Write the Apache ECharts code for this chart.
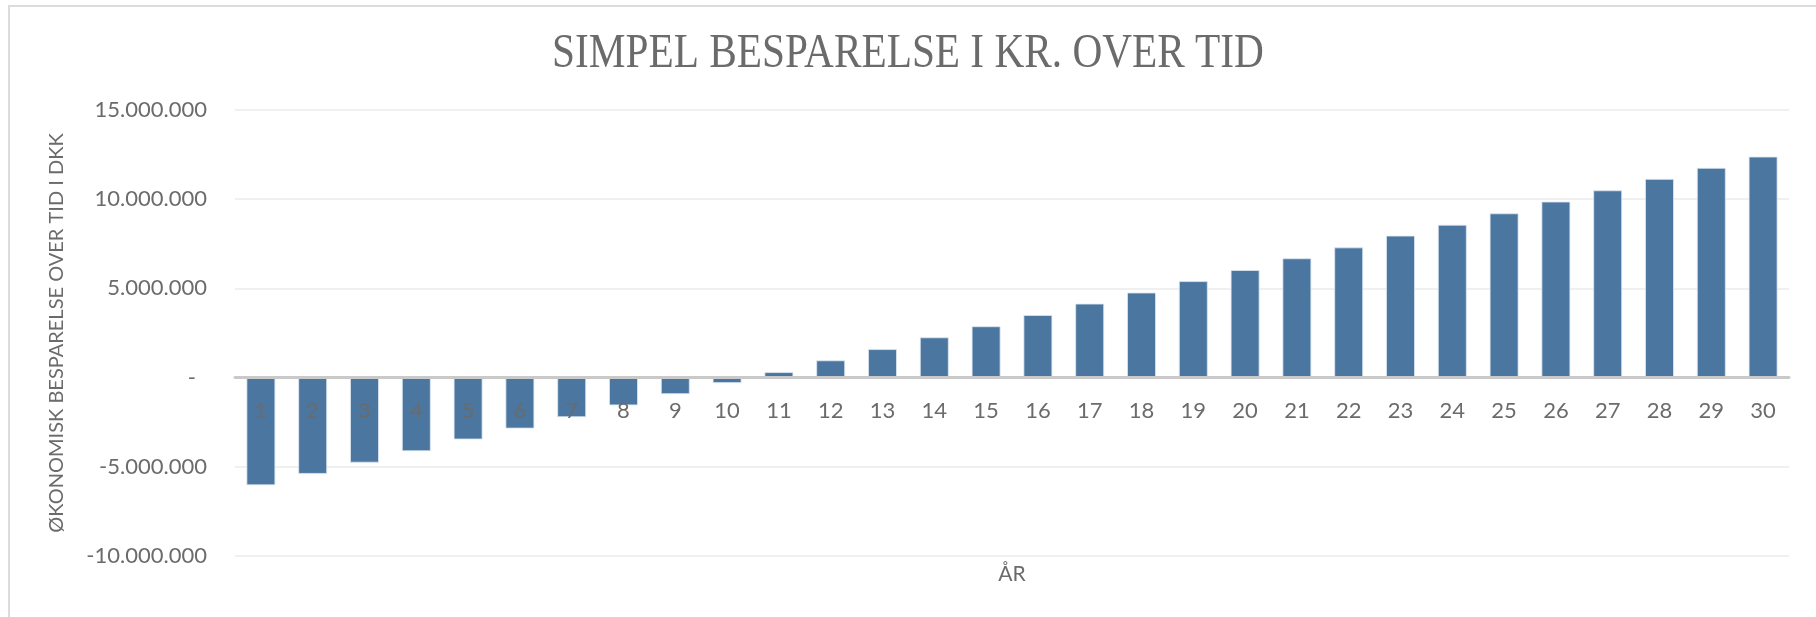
<!DOCTYPE html>
<html>
<head>
    <meta charset="UTF-8">
    <title>Simpel besparelse i kr. over tid</title>
    <script src="https://cdn.jsdelivr.net/npm/echarts@6/dist/echarts.min.js"></script>
    <style>
        html, body { margin: 0; padding: 0; background: #fff; }
        #chart { width: 1816px; height: 617px; }
    </style>
</head>
<body>
    <div id="chart"></div>
    <script>
        // data
        var years = ['1', '2', '3', '4', '5', '6', '7', '8', '9', '10',
                     '11', '12', '13', '14', '15', '16', '17', '18', '19', '20',
                     '21', '22', '23', '24', '25', '26', '27', '28', '29', '30'];
        var savings = [-6040000, -5400000, -4770000, -4130000, -3470000, -2860000, -2220000, -1560000, -930000, -310000,
                       310000, 970000, 1600000, 2260000, 2880000, 3510000, 4150000, 4770000, 5410000, 6030000,
                       6690000, 7300000, 7960000, 8570000, 9210000, 9870000, 10500000, 11140000, 11760000, 12390000];
        var yTicks = { min: -10000000, max: 15000000, step: 5000000 };

        var titleText = 'SIMPEL BESPARELSE I KR. OVER TID';
        var yName = 'ØKONOMISK BESPARELSE OVER TID I DKK';
        var xName = 'ÅR';

        var textGrey = '#6b6b6b';
        var sans = 'Lato, "Open Sans", sans-serif';

        var gridTop = 110, gridBottom = 61, chartH = 617;
        // the category axis sits on the zero line; shift it up from the grid bottom
        var plotH = chartH - gridTop - gridBottom;
        var zeroOffset = plotH * (0 - yTicks.min) / (yTicks.max - yTicks.min);

        function fmtKr(v) {
            if (v === 0) return '-\u2002';
            var s = String(Math.abs(v)).replace(/\B(?=(\d{3})+(?!\d))/g, '.');
            return (v < 0 ? '-' : '') + s;
        }

        var chart = echarts.init(document.getElementById('chart'), null, {renderer: 'canvas'});

        chart.setOption({
            backgroundColor: '#fff',
            animation: false,
            graphic: [
                {
                    type: 'rect',
                    shape: {x: 9, y: 6, width: 1900, height: 700},
                    style: {fill: 'none', stroke: '#dcdcdc', lineWidth: 2},
                    silent: true
                },
                {
                    type: 'text',
                    x: 908,
                    y: 54,
                    scaleX: 0.86,
                    style: {
                        text: titleText,
                        font: '48px "Liberation Serif", serif',
                        fill: textGrey,
                        textAlign: 'center',
                        textVerticalAlign: 'middle'
                    }
                }
            ],
            grid: {left: 235, right: 27, top: gridTop, bottom: gridBottom, outerBoundsMode: 'none', containLabel: false},
            xAxis: {
                type: 'category',
                data: years,
                z: 3,
                offset: -zeroOffset,
                name: xName,
                nameLocation: 'middle',
                nameGap: 186,
                nameTextStyle: {color: textGrey, fontSize: 21, fontFamily: sans},
                axisLine: {onZero: false, lineStyle: {color: '#c9c9c9', width: 3}},
                axisTick: {show: false},
                axisLabel: {color: textGrey, fontSize: 22, fontFamily: sans, margin: 22, interval: 0}
            },
            yAxis: {
                type: 'value',
                min: yTicks.min,
                max: yTicks.max,
                interval: yTicks.step,
                name: yName,
                nameLocation: 'middle',
                nameGap: 168,
                nameTextStyle: {color: textGrey, fontSize: 20, fontFamily: sans},
                axisLine: {show: false},
                axisTick: {show: false},
                splitLine: {lineStyle: {color: '#f0f0f0', width: 2}},
                axisLabel: {color: textGrey, fontSize: 22, fontFamily: sans, margin: 28, formatter: fmtKr}
            },
            series: [{
                type: 'bar',
                data: savings,
                barWidth: '56%',
                itemStyle: {color: '#4a76a0', borderColor: 'rgba(220,230,240,0.8)', borderWidth: 1}
            }]
        });
    </script>
</body>
</html>
